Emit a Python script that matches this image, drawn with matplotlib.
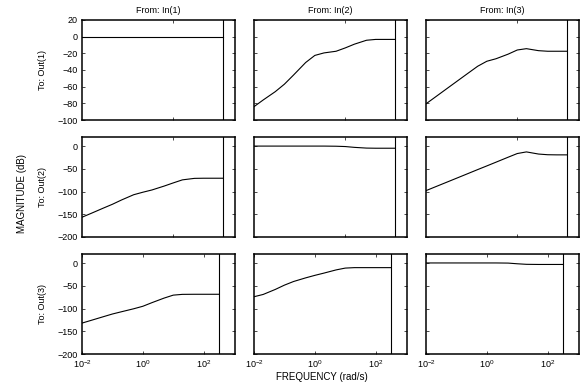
import numpy as np
import matplotlib
matplotlib.use('Agg')
import matplotlib.pyplot as plt
from matplotlib.ticker import NullFormatter, NullLocator

plt.rcParams['font.family'] = ['Liberation Sans', 'DejaVu Sans']

# frequency points (rad/s)
freq_top = [0.01, 0.02, 0.05, 0.1, 0.2, 0.5, 1, 2, 5, 10, 20, 50, 100, 200, 420]
freq_bot = [0.01, 0.02, 0.05, 0.1, 0.2, 0.5, 1, 2, 5, 10, 20, 50, 100, 200, 314]
nyq_top = 420
nyq_bot = 314

inputs = ['In(1)', 'In(2)', 'In(3)']
outputs = ['Out(1)', 'Out(2)', 'Out(3)']

# magnitude (dB), one list per output/input pair
mag_11 = [0, 0, 0, 0, 0, 0, 0, 0, 0, 0, 0, 0, 0, 0, 0]
mag_12 = [-84, -76, -66, -57, -46, -31, -22.5, -19.5, -17.5, -13.5, -9, -4.3, -3.3, -3.3, -3.3]
mag_13 = [-80.6, -72.6, -62, -54, -46, -35.5, -29.5, -26.5, -21, -16, -14.4, -16.8, -17.5, -17.5, -17.5]
mag_21 = [-156.5, -148, -136.5, -128, -118.5, -107, -101.5, -96.5, -88, -81, -74.3, -71, -70.7, -70.7, -70.7]
mag_22 = [0, 0, 0, 0, 0, 0, 0, 0, -0.3, -1, -2.8, -4.4, -4.7, -4.7, -4.7]
mag_23 = [-98, -89.8, -79, -70.8, -62.6, -51.7, -43.6, -35.4, -24.5, -16.4, -12.8, -17.5, -19, -19.3, -19.3]
mag_31 = [-132, -126, -118, -112, -107, -100.5, -95, -87, -77, -70.5, -68.8, -68.6, -68.6, -68.6, -68.6]
mag_32 = [-74, -69, -58, -48.5, -40.5, -32.5, -27, -22, -15, -11, -10, -10, -10, -10, -10]
mag_33 = [0.3, 0.3, 0.3, 0.3, 0.3, 0.3, 0.3, 0.3, 0, -1.5, -2.7, -3, -3, -3, -3]

mags = [[mag_11, mag_12, mag_13],
        [mag_21, mag_22, mag_23],
        [mag_31, mag_32, mag_33]]

W, H = 584, 385
fig = plt.figure(figsize=(W / 100, H / 100), dpi=100)

col_left = [82, 254, 426]
row_top = [20, 137, 254]
ax_w, ax_h = 153, 100

for i in range(3):
    for j in range(3):
        ax = fig.add_axes([col_left[j] / W, 1 - (row_top[i] + ax_h) / H, ax_w / W, ax_h / H])
        freq = freq_bot if i == 2 else freq_top
        nyq = nyq_bot if i == 2 else nyq_top
        ax.semilogx(freq, mags[i][j], color='black', lw=0.8)
        ax.axvline(nyq, color='black', lw=0.8)
        ax.set_xlim(0.01, 10 ** 3.03)
        if i == 0:
            ax.set_ylim(-100, 20)
            ax.set_yticks(np.arange(-100, 21, 20))
        else:
            ax.set_ylim(-200, 20)
            ax.set_yticks(np.arange(-200, 1, 50))
        ax.xaxis.set_minor_locator(NullLocator())
        if i == 2:
            ax.set_xticks([0.01, 1, 100])
        else:
            ax.set_xticks([10])
            ax.xaxis.set_major_formatter(NullFormatter())
        if j != 0:
            ax.yaxis.set_major_formatter(NullFormatter())
        ax.tick_params(direction='in', top=True, right=True, length=2.5,
                       width=0.5, labelsize=6.5, pad=3)
        for s in ax.spines.values():
            s.set_linewidth(1.1)
        if i == 0:
            ax.set_title('From: ' + inputs[j], fontsize=6.5, pad=5)
        if j == 0:
            ax.set_ylabel('To: ' + outputs[i], fontsize=6.5)
            ax.yaxis.set_label_coords(-35 / ax_w, 0.5)

fig.text(22 / W, 1 - 194 / H, 'MAGNITUDE (dB)', rotation=90, fontsize=7,
         ha='center', va='center')
fig.text(322 / W, 1 - 377 / H, 'FREQUENCY (rad/s)', fontsize=7,
         ha='center', va='center')

plt.savefig('out.png', dpi=100)
